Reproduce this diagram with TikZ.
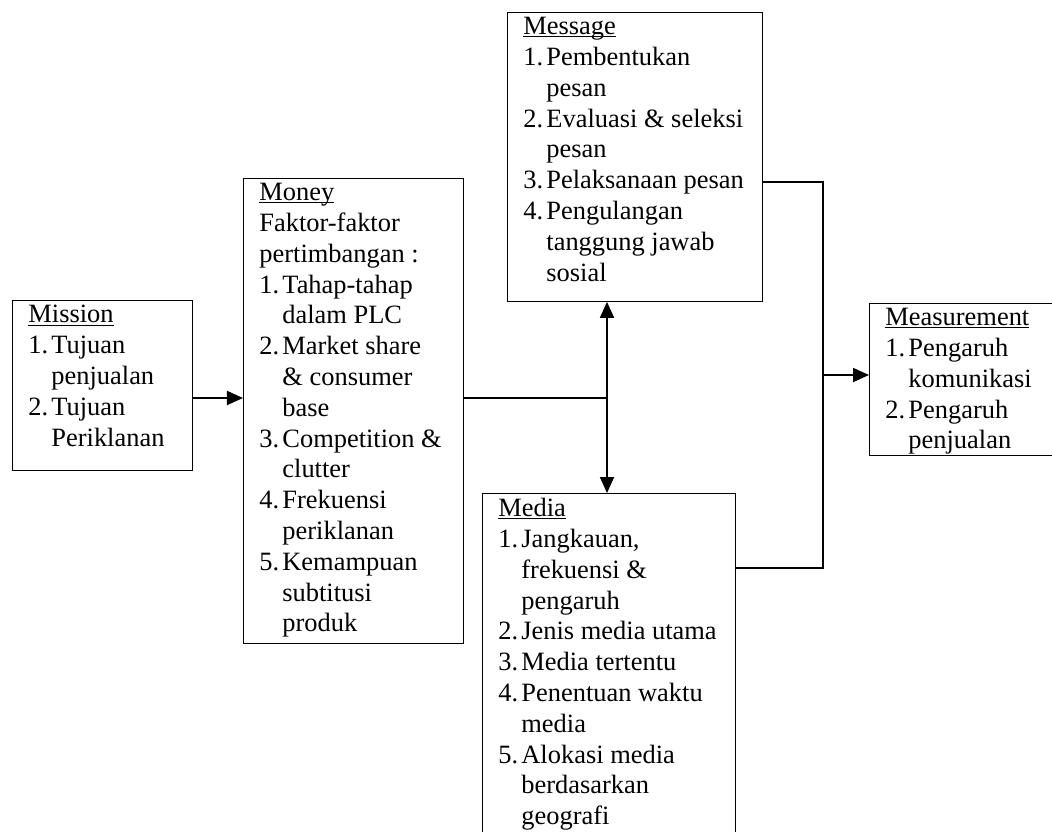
\documentclass[tikz,border=0pt]{standalone}
\usepackage{fontspec}
\setmainfont{Liberation Serif}
\usepackage{tikz}
\usetikzlibrary{arrows.meta, calc}
\newlength{\pxu}
\setlength{\pxu}{0.025cm}
\tikzset{
	mbox/.style ={rectangle, draw=black, line width=0.6pt, anchor=north west, inner xsep=0pt, inner ysep=1.25mm, font=\fontsize{18.8pt}{21.9pt}\selectfont},
	link/.style ={line width=1.3pt},
	sig/.style  ={link, -{Triangle[length=4mm, width=3.5mm]}},
	dsig/.style ={link, {Triangle[length=4mm, width=3.5mm]}-{Triangle[length=4mm, width=3.5mm]}},
}
\newcommand{\cell}[3]{\parbox[c][#2\pxu][t]{#1\pxu}{\leftskip=16\pxu\relax #3}}
\newcommand{\nr}[1]{\makebox[23\pxu][l]{#1.}}
\newcommand{\ind}{\hspace*{23\pxu}}

\begin{document}
\begin{tikzpicture}[x=0.025cm, y=-0.025cm]
	\clip (0,0) rectangle (1052,831);
	% ---------------- boxes ----------------
	\node[mbox] (mission) at (12,300) {\cell{180}{160}{\underbar{Mission}\\
		\nr{1}Tujuan\\ \ind penjualan\\
		\nr{2}Tujuan\\ \ind Periklanan}};
	\node[mbox] (money) at (243,178) {\cell{220}{455}{\underbar{Money}\\
		Faktor-faktor\\ pertimbangan :\\
		\nr{1}Tahap-tahap\\ \ind dalam PLC\\
		\nr{2}Market share\\ \ind \& consumer\\ \ind base\\
		\nr{3}Competition \&\\ \ind clutter\\
		\nr{4}Frekuensi\\ \ind periklanan\\
		\nr{5}Kemampuan\\ \ind subtitusi\\ \ind produk}};
	\node[mbox] (message) at (507,12) {\cell{255}{279}{\underbar{Message}\\
		\nr{1}Pembentukan\\ \ind pesan\\
		\nr{2}Evaluasi \& seleksi\\ \ind pesan\\
		\nr{3}Pelaksanaan pesan\\
		\nr{4}Pengulangan\\ \ind tanggung jawab\\ \ind sosial}};
	\node[mbox] (media) at (482,493) {\cell{253}{390}{\underbar{Media}\\
		\nr{1}Jangkauan,\\ \ind frekuensi \&\\ \ind pengaruh\\
		\nr{2}Jenis media utama\\
		\nr{3}Media tertentu\\
		\nr{4}Penentuan waktu\\ \ind media\\
		\nr{5}Alokasi media\\ \ind berdasarkan\\ \ind geografi}};
	\node[mbox] (measure) at (869,303) {\cell{200}{142}{\underbar{Measurement}\\
		\nr{1}Pengaruh\\ \ind komunikasi\\
		\nr{2}Pengaruh\\ \ind penjualan}};
	% ---------------- connectors ----------------
	\coordinate (jn) at (607,398);
	\coordinate (busT) at (823,182);
	\coordinate (busM) at (823,375);
	\coordinate (busB) at (823,568);
	\draw[sig] (mission.east |- jn) -- (money.west |- jn);
	\draw[link] (money.east |- jn) -- (jn);
	\draw[dsig] (message.south -| jn) -- (media.north -| jn);
	\draw[link] (message.east |- busT) -- (busT) -- (busB) -- (media.east |- busB);
	\draw[sig] (busM) -- (measure.west |- busM);
\end{tikzpicture}
\end{document}
